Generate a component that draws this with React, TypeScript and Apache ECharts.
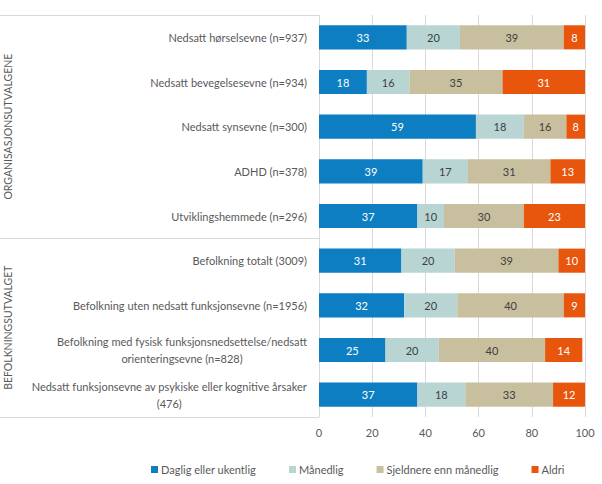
import React, { useEffect, useRef } from "react";
import * as echarts from "echarts";

const categories: string[] = [
  "Nedsatt hørselsevne (n=937)",
  "Nedsatt bevegelsesevne (n=934)",
  "Nedsatt synsevne (n=300)",
  "ADHD (n=378)",
  "Utviklingshemmede (n=296)",
  "Befolkning totalt (3009)",
  "Befolkning uten nedsatt funksjonsevne (n=1956)",
  "Befolkning med fysisk funksjonsnedsettelse/nedsatt\norienteringsevne (n=828)",
  "Nedsatt funksjonsevne av psykiske eller kognitive årsaker\n(476)",
];

const seriesNames: string[] = [
  "Daglig eller ukentlig",
  "Månedlig",
  "Sjeldnere enn månedlig",
  "Aldri",
];

const daglig: number[] = [33, 18, 59, 39, 37, 31, 32, 25, 37];
const maanedlig: number[] = [20, 16, 18, 17, 10, 20, 20, 20, 18];
const sjeldnere: number[] = [39, 35, 16, 31, 30, 39, 40, 40, 33];
const aldri: number[] = [8, 31, 8, 13, 23, 10, 9, 14, 12];

const groupNames: string[] = ["ORGANISASJONSUTVALGENE", "BEFOLKNINGSUTVALGET"];
const groupSizes: number[] = [5, 4];

const xTicks = { min: 0, max: 100, interval: 20 };

const FONT = "Lato, 'Open Sans', sans-serif";
const TXT = "#595959";
const LINE = "#d9d9d9";

export default function App() {
  const ref = useRef<HTMLDivElement>(null);

  useEffect(() => {
    if (!ref.current) return;
    const chart = echarts.init(ref.current, undefined, { renderer: "svg" });

    const gridLeft = 319;
    const gridTop = 15;
    const gridBottom = 67;
    const H = 484;
    const plotH = H - gridTop - gridBottom;
    const rowH = plotH / categories.length;

    const colors = ["#0E7EC3", "#B8D5D3", "#C8BF9F", "#E8550D"];
    const labelColors = ["#ffffff", "#404040", "#404040", "#ffffff"];
    const datas = [daglig, maanedlig, sjeldnere, aldri];

    const graphics: any[] = [];
    // horizontal group separators
    let acc = 0;
    const bounds = [0];
    groupSizes.forEach((s) => {
      acc += s;
      bounds.push(acc);
    });
    bounds.forEach((b) => {
      const y = Math.round(gridTop + b * rowH) + 0.5;
      graphics.push({
        type: "line",
        shape: { x1: 0, y1: y, x2: gridLeft, y2: y },
        style: { stroke: LINE, lineWidth: 1 },
        silent: true,
      });
    });
    groupNames.forEach((g, i) => {
      const cy = gridTop + ((bounds[i] + bounds[i + 1]) / 2) * rowH;
      graphics.push({
        type: "text",
        x: 8,
        y: cy,
        rotation: Math.PI / 2,
        style: {
          text: g,
          fill: TXT,
          font: `10.5px ${FONT}`,
          textAlign: "center",
          textVerticalAlign: "middle",
        },
        silent: true,
      });
    });

    chart.setOption({
      animation: false,
      textStyle: { fontFamily: FONT },
      grid: { left: gridLeft, right: 17, top: gridTop, bottom: gridBottom, containLabel: false },
      legend: {
        left: 146,
        top: 459,
        itemWidth: 7,
        itemHeight: 7,
        itemGap: 33,
        icon: "rect",
        textStyle: { color: TXT, fontSize: 11, fontFamily: FONT, padding: [0, 0, 0, -2] },
        data: seriesNames,
      },
      xAxis: {
        type: "value",
        min: xTicks.min,
        max: xTicks.max,
        interval: xTicks.interval,
        axisLine: { show: false },
        axisTick: { show: false },
        splitLine: { lineStyle: { color: LINE } },
        axisLabel: { color: TXT, fontSize: 11, margin: 10, fontFamily: FONT },
      },
      yAxis: {
        type: "category",
        inverse: true,
        data: categories,
        axisLine: { show: true, lineStyle: { color: LINE } },
        axisTick: { show: false },
        axisLabel: {
          color: TXT,
          fontSize: 11,
          margin: 12,
          fontFamily: FONT,
          lineHeight: 17,
          formatter: (v: string) =>
            v
              .split("\n")
              .map((l) => `{c|${l}}`)
              .join("\n"),
          rich: {
            c: { align: "center", color: TXT, fontSize: 11, fontFamily: FONT, lineHeight: 17 },
          },
        },
      },
      graphic: graphics,
      series: seriesNames.map((name, i) => ({
        name,
        type: "bar",
        stack: "total",
        data: datas[i],
        barCategoryGap: "46%",
        itemStyle: { color: colors[i] },
        label: {
          show: true,
          position: "inside",
          color: labelColors[i],
          fontSize: 11,
          fontFamily: FONT,
        },
      })),
    });

    return () => chart.dispose();
  }, []);

  return <div ref={ref} style={{ width: 602, height: 484, position: "absolute", left: 0, top: 0 }} />;
}
